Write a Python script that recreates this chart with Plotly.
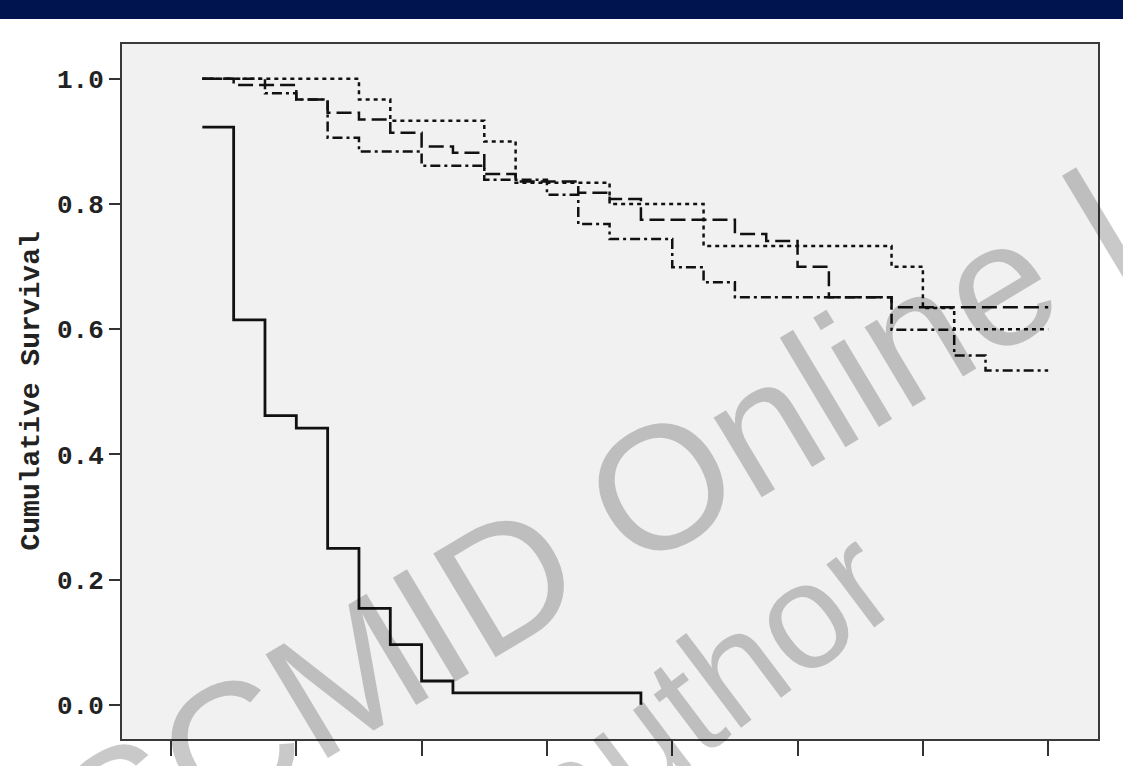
import plotly.graph_objects as go

# ---- data (time in interval units; survival proportions) ----
t_solid = [1, 2, 3, 4, 5, 6, 7, 8, 9, 15]
s_solid = [0.923, 0.615, 0.462, 0.442, 0.250, 0.154, 0.096, 0.038, 0.019, 0.0]

t_dot = [1, 6, 7, 10, 11, 14, 17, 23, 24, 25, 28]
s_dot = [1.0, 0.967, 0.933, 0.900, 0.834, 0.800, 0.733, 0.700, 0.634, 0.600, 0.600]

t_ldash = [1, 2, 4, 5, 6, 7, 8, 9, 10, 11, 13, 14, 15, 18, 19, 20, 21, 23, 28]
s_ldash = [1.0, 0.990, 0.967, 0.946, 0.935, 0.914, 0.892, 0.882, 0.848, 0.836,
           0.818, 0.808, 0.775, 0.752, 0.741, 0.700, 0.651, 0.635, 0.635]

t_dd = [1, 3, 4, 5, 6, 8, 10, 12, 13, 14, 16, 17, 18, 23, 25, 26, 28]
s_dd = [1.0, 0.977, 0.967, 0.906, 0.884, 0.861, 0.839, 0.815, 0.768, 0.744,
        0.699, 0.675, 0.651, 0.599, 0.558, 0.534, 0.534]

y_ticks = [0.0, 0.2, 0.4, 0.6, 0.8, 1.0]
y_ticklabels = ["0.0", "0.2", "0.4", "0.6", "0.8", "1.0"]
x_ticks = [0, 4, 8, 12, 16, 20, 24, 28]

fig = go.Figure()

def add(t, s, dash, width):
    fig.add_trace(go.Scatter(x=t, y=s, mode="lines", line_shape="hv",
                             line=dict(color="#111111", width=width, dash=dash),
                             showlegend=False, hoverinfo="skip"))

add(t_dot, s_dot, "4px,4px", 2.5)
add(t_ldash, s_ldash, "15px,6px", 2.5)
add(t_dd, s_dd, "10px,4px,3px,4px", 2.5)
add(t_solid, s_solid, "solid", 2.8)

mono = "Liberation Mono, Courier New, monospace"
wm_color = "rgba(0,0,0,0.21)"

fig.update_layout(
    width=1123, height=766,
    margin=dict(l=122, r=25, t=44, b=24),
    paper_bgcolor="white",
    plot_bgcolor="#f1f1f1",
    xaxis=dict(range=[-1.564, 29.59], tickvals=x_ticks, showticklabels=False,
               ticks="outside", ticklen=15, tickwidth=2, tickcolor="#333",
               showline=True, linecolor="#3a3a3a", linewidth=2, mirror=True,
               showgrid=False, zeroline=False),
    yaxis=dict(range=[-0.0547, 1.0557], tickvals=y_ticks, ticktext=y_ticklabels,
               ticks="outside", ticklen=11, tickwidth=2, tickcolor="#333",
               tickfont=dict(family=mono, size=26, color="#222", weight="bold"),
               showline=True, linecolor="#3a3a3a", linewidth=2, mirror=True,
               showgrid=False, zeroline=False),
    shapes=[dict(type="rect", xref="paper", yref="paper", x0=-0.2, x1=1.1,
                 y0=(742 - 19) / 698, y1=(742 + 5) / 698,
                 fillcolor="#001450", line=dict(width=0), layer="above")],
    annotations=[
        dict(text="Cumulative Survival", xref="paper", yref="paper",
             x=(31 - 122) / 976, y=(742 - 393) / 698, textangle=-90,
             showarrow=False, xanchor="center", yanchor="middle",
             font=dict(family=mono, size=28, color="#222", weight="bold")),
        dict(text="ESCMID Online Lecture Library", xref="paper", yref="paper",
             x=(1030 - 122) / 976, y=(742 - 266) / 698, textangle=-31,
             showarrow=False, xanchor="center", yanchor="middle",
             font=dict(family="Liberation Sans, Arial", size=176, color=wm_color)),
        dict(text="\u00a9 by author", xref="paper", yref="paper",
             x=(564 - 122) / 976, y=(742 - 799) / 698, textangle=-37,
             showarrow=False, xanchor="center", yanchor="middle",
             font=dict(family="Liberation Sans, Arial", size=150, color=wm_color)),
    ],
)

fig.write_html("out.html")
